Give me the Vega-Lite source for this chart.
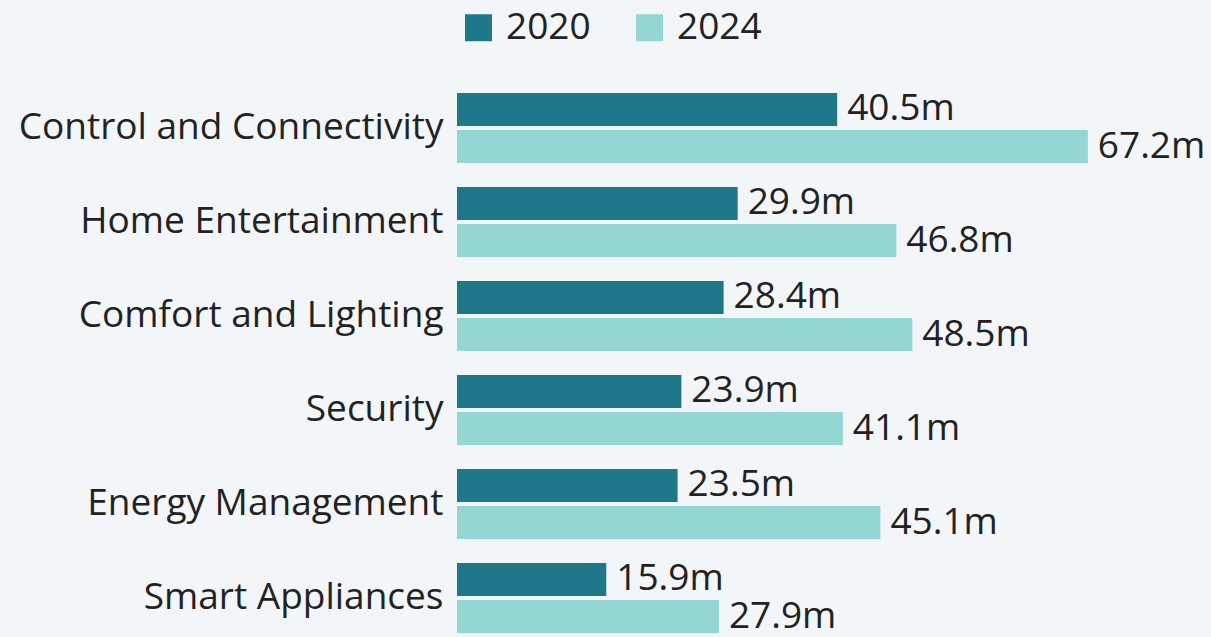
{
  "$schema": "https://vega.github.io/schema/vega-lite/v6.json",
  "autosize": "none",
  "width": 751,
  "height": 564,
  "padding": {"left": 457, "top": 81, "right": 3, "bottom": 0},
  "background": "#f3f6f9",
  "config": {
    "view": {"stroke": null},
    "font": "Open Sans",
    "text": {"font": "Open Sans"}
  },
  "data": {
    "values": [
      {"category": "Control and Connectivity", "year": "2020", "value": 40.5},
      {"category": "Control and Connectivity", "year": "2024", "value": 67.2},
      {"category": "Home Entertainment", "year": "2020", "value": 29.9},
      {"category": "Home Entertainment", "year": "2024", "value": 46.8},
      {"category": "Comfort and Lighting", "year": "2020", "value": 28.4},
      {"category": "Comfort and Lighting", "year": "2024", "value": 48.5},
      {"category": "Security", "year": "2020", "value": 23.9},
      {"category": "Security", "year": "2024", "value": 41.1},
      {"category": "Energy Management", "year": "2020", "value": 23.5},
      {"category": "Energy Management", "year": "2024", "value": 45.1},
      {"category": "Smart Appliances", "year": "2020", "value": 15.9},
      {"category": "Smart Appliances", "year": "2024", "value": 27.9}
    ]
  },
  "transform": [{"calculate": "format(datum.value, '.1f') + 'm'", "as": "label"}],
  "encoding": {
    "y": {
      "field": "category",
      "type": "nominal",
      "sort": null,
      "scale": {"paddingInner": 0.255, "paddingOuter": 0.1275},
      "axis": {
        "title": null,
        "domain": false,
        "ticks": false,
        "labelFontSize": 37,
        "labelColor": "#222222",
        "labelFont": "Open Sans",
        "labelPadding": 14,
        "labelLimit": 600
      }
    },
    "yOffset": {
      "field": "year",
      "type": "nominal",
      "scale": {"paddingInner": 0.108, "paddingOuter": 0}
    },
    "x": {
      "field": "value",
      "type": "quantitative",
      "scale": {"domain": [0, 80], "nice": false},
      "axis": null
    }
  },
  "layer": [
    {
      "mark": {"type": "bar"},
      "encoding": {
        "color": {
          "field": "year",
          "type": "nominal",
          "scale": {"domain": ["2020", "2024"], "range": ["#1f7889", "#93d6d4"]},
          "legend": {
            "title": null,
            "orient": "none",
            "direction": "horizontal",
            "legendX": 3,
            "legendY": -72,
            "padding": 0,
            "symbolType": "square",
            "symbolSize": 729,
            "symbolStrokeWidth": 0,
            "symbolOpacity": 1,
            "labelFontSize": 37,
            "labelFont": "Open Sans",
            "labelColor": "#222222",
            "labelOffset": 9,
            "columnPadding": 40
          }
        }
      }
    },
    {
      "mark": {"type": "text", "align": "left", "baseline": "middle", "dx": 10, "fontSize": 37, "color": "#222222", "font": "Open Sans"},
      "encoding": {
        "text": {"field": "label", "type": "nominal"}
      }
    }
  ]
}
